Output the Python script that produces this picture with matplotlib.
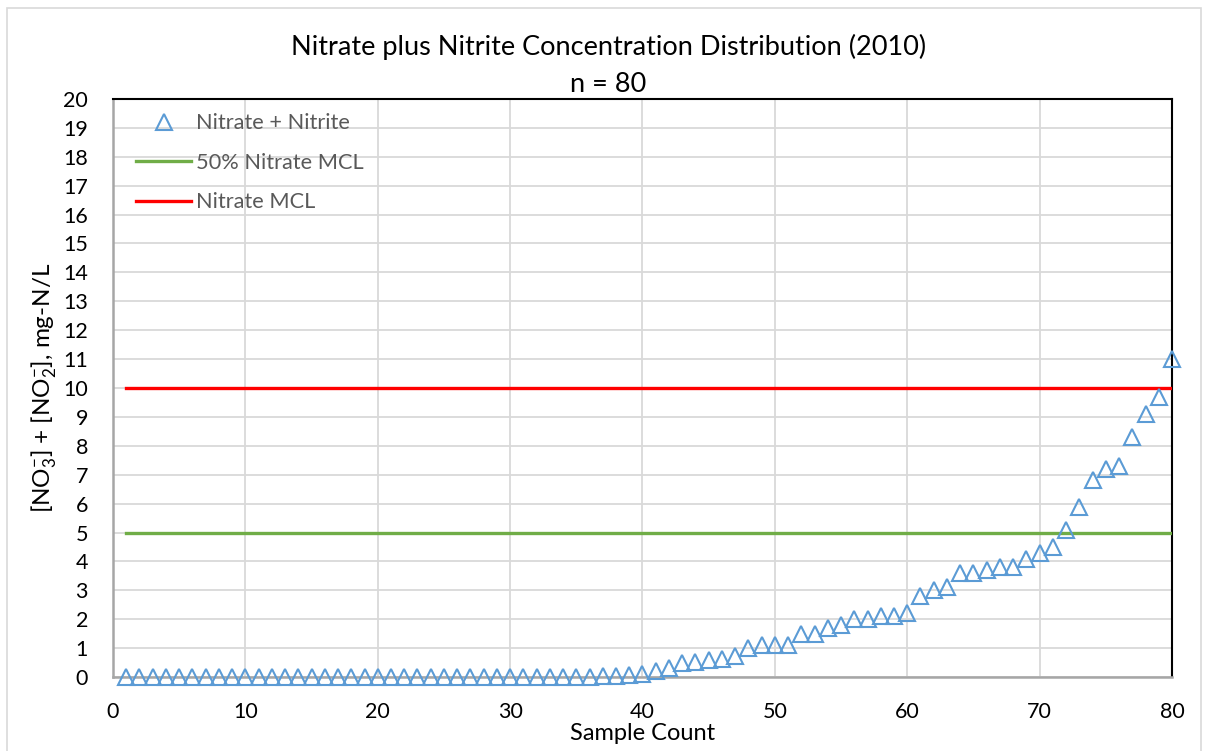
import matplotlib
matplotlib.use("Agg")
import matplotlib.pyplot as plt
from matplotlib.patches import Rectangle

plt.rcParams['font.family'] = ['Lato', 'DejaVu Sans']
plt.rcParams['mathtext.fontset'] = 'custom'
plt.rcParams['mathtext.rm'] = 'Lato'
plt.rcParams['mathtext.it'] = 'Lato'
plt.rcParams['mathtext.default'] = 'regular'

# Data
sample_count = list(range(1, 81))
concentration = [0.0] * 36 + [0.02, 0.05, 0.08, 0.12,
    0.2, 0.3, 0.5, 0.52, 0.6, 0.62, 0.74, 1.0, 1.1, 1.1,
    1.1, 1.5, 1.5, 1.7, 1.8, 2.0, 2.0, 2.1, 2.1, 2.2,
    2.8, 3.0, 3.1, 3.6, 3.6, 3.7, 3.8, 3.8, 4.1, 4.3,
    4.5, 5.1, 5.9, 6.8, 7.2, 7.3, 8.3, 9.1, 9.7, 11.0]
mcl_x = [1, 80]
half_mcl = [5, 5]
mcl = [10, 10]
x_ticks = list(range(0, 81, 10))
y_ticks = list(range(0, 21))

fig = plt.figure(figsize=(12.06, 7.51), dpi=100)
fig.patches.append(Rectangle((0.006, -0.01), 0.99, 0.999, transform=fig.transFigure,
                             fill=False, edgecolor='#D9D9D9', linewidth=1.2))
ax = fig.add_axes([0.0937, 0.0985, 0.8781, 0.7697])

ax.plot(mcl_x, half_mcl, color='#70AD47', linewidth=2.4, label='50% Nitrate MCL', zorder=3)
ax.plot(mcl_x, mcl, color='#FF0000', linewidth=2.4, label='Nitrate MCL', zorder=3)
ax.plot(sample_count, concentration, linestyle='none', marker='^', markersize=11,
        markerfacecolor='none', markeredgecolor='#5B9BD5', markeredgewidth=1.5,
        label='Nitrate + Nitrite', zorder=4, clip_on=False)

ax.set_xlim(0, 80)
ax.set_ylim(0, 20)
ax.set_xticks(x_ticks)
ax.set_yticks(y_ticks)
ax.tick_params(axis='y', length=0, labelsize=15.5, pad=18)
ax.tick_params(axis='x', length=0, labelsize=15.5, pad=18)
ax.grid(True, color='#D9D9D9', linewidth=1.3)
ax.set_axisbelow(True)
for s in ['top', 'right']:
    ax.spines[s].set_color('black')
    ax.spines[s].set_linewidth(1.5)
for s in ['left', 'bottom']:
    ax.spines[s].set_color('#A6A6A6')
    ax.spines[s].set_linewidth(1.8)

ax.set_xlabel('Sample Count', fontsize=17, labelpad=1)
ax.set_ylabel(r'[NO$_3^{-}$] + [NO$_2^{-}$], mg-N/L', fontsize=17.5, labelpad=4)
fig.text(0.5045, 0.937, 'Nitrate plus Nitrite Concentration Distribution (2010)',
         ha='center', va='center', fontsize=19.5)
fig.text(0.5045, 0.888, 'n = 80', ha='center', va='center', fontsize=19.5)

h, l = ax.get_legend_handles_labels()
order = [2, 0, 1]
leg = ax.legend([h[i] for i in order], [l[i] for i in order], loc='upper left',
                frameon=False, fontsize=15.7, labelcolor='#595959',
                handlelength=2.5, handletextpad=0.25, labelspacing=0.9,
                borderaxespad=0.0, borderpad=0.2,
                bbox_to_anchor=(0.018, 0.983))

fig.savefig('out.png', dpi=100)
